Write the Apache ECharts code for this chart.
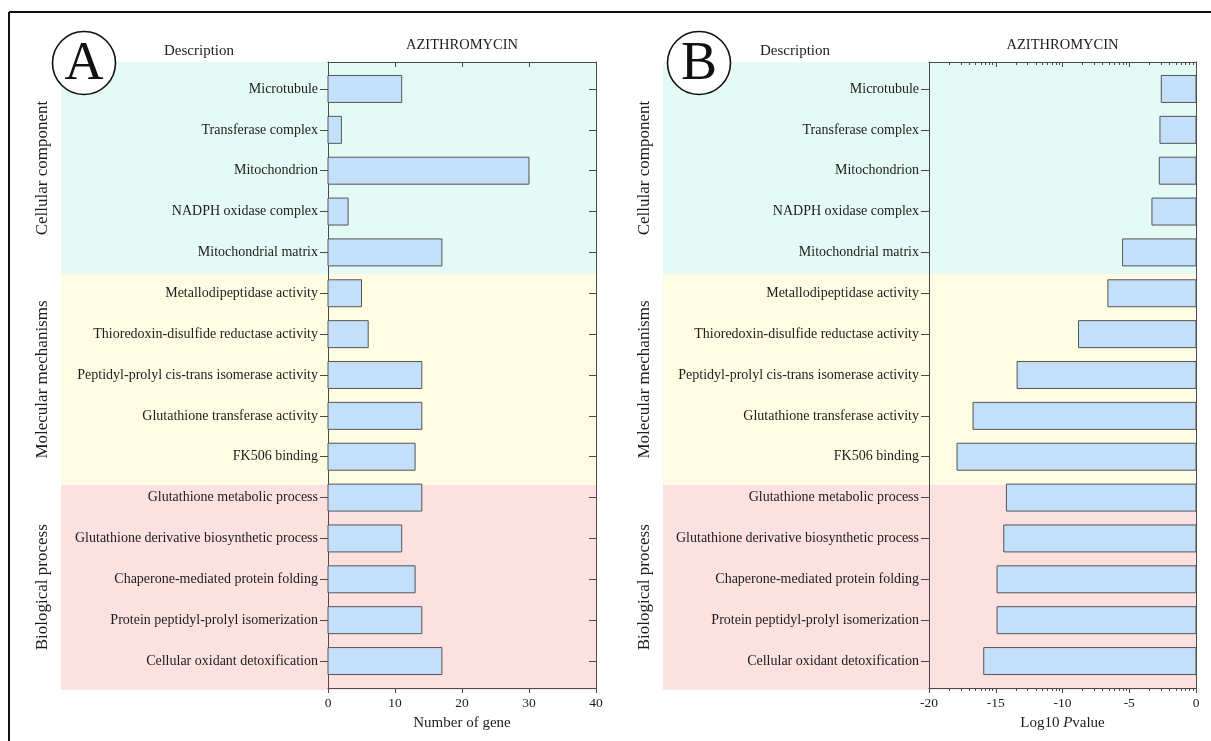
<!DOCTYPE html>
<html>
<head>
<meta charset="utf-8">
<script src="https://cdn.jsdelivr.net/npm/echarts@6/dist/echarts.min.js"></script>
<style>
  html, body { margin: 0; padding: 0; background: #ffffff; }
  #chart { width: 1211px; height: 741px; }
</style>
</head>
<body>
<div id="chart"></div>
<script>
// GO terms, top to bottom
const categories = [
  'Microtubule',
  'Transferase complex',
  'Mitochondrion',
  'NADPH oxidase complex',
  'Mitochondrial matrix',
  'Metallodipeptidase activity',
  'Thioredoxin-disulfide reductase activity',
  'Peptidyl-prolyl cis-trans isomerase activity',
  'Glutathione transferase activity',
  'FK506 binding',
  'Glutathione metabolic process',
  'Glutathione derivative biosynthetic process',
  'Chaperone-mediated protein folding',
  'Protein peptidyl-prolyl isomerization',
  'Cellular oxidant detoxification'
];

// Panel A: number of genes per term
const geneCounts = [11, 2, 30, 3, 17, 5, 6, 14, 14, 13, 14, 11, 13, 14, 17];

// Panel B: log10 P value per term
const log10P = [-2.6, -2.7, -2.75, -3.3, -5.5, -6.6, -8.8, -13.4, -16.7, -17.9, -14.2, -14.4, -14.9, -14.9, -15.9];

// GO groups (row ranges in axis units)
const groupNames = ['Cellular component', 'Molecular mechanisms', 'Biological process'];
const groupEdges = [-0.66, 4.53, 9.69, 14.7];
const groupColors = ['#e4faf5', '#fefde3', '#fde0e0'];

const geneTicks = [0, 10, 20, 30, 40];
const pTicks = [-20, -15, -10, -5, 0];

const FONT = '"Liberation Serif", "DejaVu Serif", serif';
const TXT = '#1c1c1c';
const AXC = '#4a4a4a';
const BAR_FILL = '#c4dffa';
const BAR_EDGE = '#555555';

const rowIdx = categories.map((_, i) => i);
const Y_MIN = -0.66, Y_MAX = 14.66;

// log-style minor ticks inside every 5-unit step of the P axis
const pMinor = [];
for (let b = -20; b < 0; b += 5) {
  for (let m = 2; m <= 9; m++) pMinor.push(+(b + 5 * Math.log10(m)).toFixed(3));
}

const chart = echarts.init(document.getElementById('chart'), null, { renderer: 'canvas' });

const labelStyle = { fontFamily: FONT, fontSize: 14, color: TXT };
const numStyle = { fontFamily: FONT, fontSize: 13.5, color: TXT };
const axLine = { show: true, onZero: false, lineStyle: { color: AXC, width: 1 } };
const noLine = { show: false, onZero: false };

function yAxisLeft(grid) {
  return {
    type: 'value', gridIndex: grid, position: 'left', inverse: true,
    min: Y_MIN, max: Y_MAX, splitLine: { show: false },
    axisLine: axLine,
    axisTick: { show: true, length: 8, inside: false, customValues: rowIdx, lineStyle: { color: AXC } },
    axisLabel: Object.assign({ margin: 10, customValues: rowIdx,
      formatter: v => categories[Math.round(v)] }, labelStyle)
  };
}
function yAxisRight(grid, ticks) {
  return {
    type: 'value', gridIndex: grid, position: 'right', inverse: true,
    min: Y_MIN, max: Y_MAX, splitLine: { show: false },
    axisLine: axLine,
    axisTick: { show: ticks, length: 7, inside: true, customValues: rowIdx, lineStyle: { color: AXC } },
    axisLabel: { show: false }
  };
}

function barItem(params, api) {
  const v = api.value(0), row = api.value(1);
  const a = api.coord([0, row]);
  const b = api.coord([v, row]);
  const h = api.size([0, 0.66], [0, row])[1];
  return {
    type: 'rect',
    shape: { x: Math.min(a[0], b[0]), y: a[1] - h / 2, width: Math.abs(b[0] - a[0]), height: h },
    style: { fill: BAR_FILL, stroke: BAR_EDGE, lineWidth: 1 }
  };
}

const option = {
  backgroundColor: '#ffffff',
  animation: false,
  textStyle: { fontFamily: FONT },
  grid: [
    { left: 328, top: 62, width: 268, height: 626 },
    { left: 929, top: 62, width: 267, height: 626 },
    { left: 929, top: 62, width: 267, height: 626 }
  ],
  xAxis: [
    {
      type: 'value', gridIndex: 0, position: 'bottom', min: 0, max: 40, interval: 10,
      splitLine: { show: false }, axisLine: axLine,
      axisTick: { show: true, length: 5, lineStyle: { color: AXC } },
      axisLabel: Object.assign({ margin: 8, customValues: geneTicks }, numStyle),
      name: 'Number of gene', nameLocation: 'middle', nameGap: 28,
      nameTextStyle: { fontFamily: FONT, fontSize: 15, color: TXT }
    },
    {
      type: 'value', gridIndex: 0, position: 'top', min: 0, max: 40, interval: 10,
      splitLine: { show: false }, axisLine: axLine,
      axisTick: { show: true, inside: true, length: 5, lineStyle: { color: AXC } },
      axisLabel: { show: false }
    },
    {
      type: 'value', gridIndex: 1, position: 'bottom', min: -20, max: 0, interval: 5,
      splitLine: { show: false }, axisLine: axLine,
      axisTick: { show: true, length: 5, lineStyle: { color: AXC } },
      axisLabel: Object.assign({ margin: 8, customValues: pTicks }, numStyle),
      name: '{n|Log10 }{i|P}{n|value}', nameLocation: 'middle', nameGap: 28,
      nameTextStyle: {
        rich: {
          n: { fontFamily: FONT, fontSize: 15, color: TXT },
          i: { fontFamily: FONT, fontSize: 15, color: TXT, fontStyle: 'italic' }
        }
      }
    },
    {
      type: 'value', gridIndex: 1, position: 'top', min: -20, max: 0, interval: 5,
      splitLine: { show: false }, axisLine: axLine,
      axisTick: { show: true, inside: true, length: 5, lineStyle: { color: AXC } },
      axisLabel: { show: false }
    },
    {
      type: 'value', gridIndex: 2, position: 'bottom', min: -20, max: 0,
      splitLine: { show: false }, axisLine: noLine,
      axisTick: { show: true, length: 3, customValues: pMinor, lineStyle: { color: AXC } },
      axisLabel: { show: false }
    },
    {
      type: 'value', gridIndex: 2, position: 'top', min: -20, max: 0,
      splitLine: { show: false }, axisLine: noLine,
      axisTick: { show: true, inside: true, length: 3, customValues: pMinor, lineStyle: { color: AXC } },
      axisLabel: { show: false }
    }
  ],
  yAxis: [
    yAxisLeft(0),
    yAxisRight(0, true),
    yAxisLeft(1),
    yAxisRight(1, false),
    { type: 'value', gridIndex: 2, min: Y_MIN, max: Y_MAX, inverse: true, show: false, axisLine: noLine }
  ],
  series: [
    {
      type: 'custom', name: 'Number of gene', xAxisIndex: 0, yAxisIndex: 0,
      renderItem: barItem, encode: { x: 0, y: 1 },
      data: geneCounts.map((v, i) => [v, i]), z: 5
    },
    {
      type: 'custom', name: 'Log10 P value', xAxisIndex: 2, yAxisIndex: 2,
      renderItem: barItem, encode: { x: 0, y: 1 },
      data: log10P.map((v, i) => [v, i]), z: 5
    }
  ]
};

chart.setOption(option);

// Panel decorations: group bands, side labels, panel letters and headings
const panels = [
  { grid: 0, xMin: 0, xMax: 40, letter: 'A', bandLeft: 61, sideX: 43, circleX: 84, descX: 199 },
  { grid: 1, xMin: -20, xMax: 0, letter: 'B', bandLeft: 663, sideX: 645, circleX: 699, descX: 795 }
];

const els = [];
panels.forEach(p => {
  const right = chart.convertToPixel({ gridIndex: p.grid }, [p.xMax, 0])[0];
  const leftPx = chart.convertToPixel({ gridIndex: p.grid }, [p.xMin, 0])[0];
  groupNames.forEach((g, k) => {
    const y0 = chart.convertToPixel({ gridIndex: p.grid }, [p.xMax, groupEdges[k]])[1];
    const y1 = chart.convertToPixel({ gridIndex: p.grid }, [p.xMax, groupEdges[k + 1]])[1];
    els.push({
      type: 'rect', z: -10, silent: true,
      shape: { x: p.bandLeft, y: y0, width: right - p.bandLeft, height: y1 - y0 },
      style: { fill: groupColors[k] }
    });
    els.push({
      type: 'text', z: 10, x: p.sideX, y: (y0 + y1) / 2, rotation: Math.PI / 2,
      style: { text: g, fontFamily: FONT, fontSize: 17, fill: TXT, align: 'center', verticalAlign: 'middle' }
    });
  });
  els.push({
    type: 'circle', z: 10, shape: { cx: p.circleX, cy: 63, r: 31.5 },
    style: { fill: '#ffffff', stroke: '#111111', lineWidth: 1.6 }
  });
  els.push({
    type: 'text', z: 11, x: p.circleX, y: 65,
    style: { text: p.letter, fontFamily: FONT, fontSize: 54, fontWeight: 'normal',
      fill: '#111111', align: 'center', verticalAlign: 'middle' }
  });
  els.push({
    type: 'text', z: 10, x: p.descX, y: 51,
    style: { text: 'Description', fontFamily: FONT, fontSize: 15, fill: TXT, align: 'center', verticalAlign: 'middle' }
  });
  els.push({
    type: 'text', z: 10, x: (leftPx + right) / 2, y: 45,
    style: { text: 'AZITHROMYCIN', fontFamily: FONT, fontSize: 14.5, fill: TXT, align: 'center', verticalAlign: 'middle' }
  });
});

// outer frame (top and left edges)
els.push({ type: 'line', z: 10, shape: { x1: 9, y1: 12, x2: 1211, y2: 12 }, style: { stroke: '#111111', lineWidth: 2 } });
els.push({ type: 'line', z: 10, shape: { x1: 9, y1: 12, x2: 9, y2: 741 }, style: { stroke: '#111111', lineWidth: 2 } });

chart.setOption({ graphic: { elements: els } });
</script>
</body>
</html>
